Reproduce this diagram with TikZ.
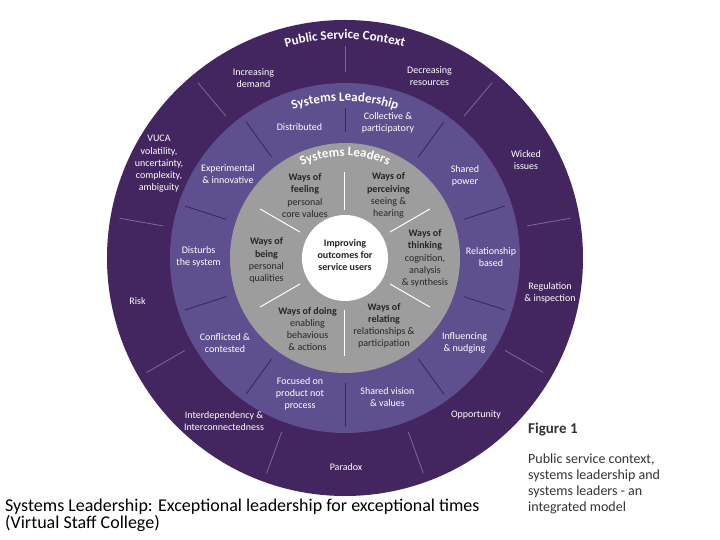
\documentclass[tikz,border=0pt]{standalone}
\usepackage{fontspec}
\setmainfont{Carlito}
\usetikzlibrary{decorations.text}
\definecolor{violetfonce}{HTML}{432560}
\definecolor{violetclair}{HTML}{5E4F8F}
\definecolor{gris}{HTML}{9D9D9D}
\definecolor{traitclair}{HTML}{7A6A9C}
\definecolor{traitfonce}{HTML}{35255A}
\begin{document}
\begin{tikzpicture}[x=1pt,y=1pt,
  ext/.style={text=white, align=center, inner sep=0pt, font=\fontsize{10}{11.8}\selectfont},
  int/.style={text=black!85, align=center, inner sep=0pt, font=\fontsize{10}{12.2}\selectfont},
  titre/.style={decorate, decoration={text along path, text align=center, text color=white,
    text={|\bfseries\fontsize{13}{13}\selectfont|#1}}}]
% Fond
\fill[white] (-345,-282) rectangle (375,258);
% Cercles
\fill[violetfonce] (0,0) circle (238);
\fill[violetclair] (0,0) circle (175);
\fill[gris] (0,0) circle (115);
\fill[white] (0,0) circle (43);
% Separations
\foreach \a in {130,170,...,410}
  \draw[traitclair, line width=0.8pt] (\a:185) -- (\a:229);
\draw[traitclair, line width=0.8pt] (90:186) -- (90:212);
\foreach \a in {126,162,...,414}
  \draw[traitfonce, line width=0.8pt] (\a:125) -- (\a:168);
\draw[traitfonce, line width=0.8pt] (90:126) -- (90:150);
\foreach \a in {150,210,...,390}
  \draw[white, line width=1pt] (\a:52) -- (\a:98);
\draw[white, line width=1pt] (90:48) -- (90:86);
% Titres
\path[titre={Public Service Context}] (140:219) arc[start angle=140, end angle=40, radius=219];
\path[titre={Systems Leadership}] (140:157) arc[start angle=140, end angle=40, radius=157];
\path[titre={Systems Leaders}] (150:102) arc[start angle=150, end angle=30, radius=102];
% Anneau exterieur
\node[ext] (demand) at (-91.5,179.5) {Increasing\\demand};
\node[ext] (resources) at (84.5,181.5) {Decreasing\\resources};
\node[ext] (wicked) at (181,98) {Wicked\\issues};
\node[ext] (regulation) at (205,-34.5) {Regulation\\\& inspection};
\node[ext] (opportunity) at (131,-157) {Opportunity};
\node[ext] (paradox) at (1,-209) {Paradox};
\node[ext] (interdep) at (-121,-163) {Interdependency \&\\Interconnectedness};
\node[ext] (risk) at (-207.5,-43) {Risk};
\node[ext, font=\fontsize{10}{12.3}\selectfont] (vuca) at (-186,94) {VUCA\\volatility,\\uncertainty,\\complexity,\\ambiguity};
% Anneau du milieu
\node[ext] (distributed) at (-45.5,131) {Distributed};
\node[ext] (collective) at (43,135) {Collective \&\\participatory};
\node[ext] (shared) at (120,82) {Shared\\power};
\node[ext] (relationship) at (146,1) {Relationship\\based};
\node[ext] (influencing) at (119.5,-85) {Influencing\\\& nudging};
\node[ext] (vision) at (42.5,-139) {Shared vision\\\& values};
\node[ext] (focused) at (-45,-136) {Focused on\\product not\\process};
\node[ext] (conflicted) at (-120,-85) {Conflicted \&\\contested};
\node[ext] (disturbs) at (-146.5,1) {Disturbs\\the system};
\node[ext] (experimental) at (-117,84) {Experimental\\\& innovative};
% Systems leaders
\node[int] (feeling) at (-40,62.5) {\textbf{Ways of}\\\textbf{feeling}\\personal\\core values};
\node[int] (perceiving) at (43.5,62.5) {\textbf{Ways of}\\\textbf{perceiving}\\seeing \&\\hearing};
\node[int] (thinking) at (80,-0.5) {\textbf{Ways of}\\\textbf{thinking}\\cognition,\\analysis\\\& synthesis};
\node[int] (relating) at (39,-68) {\textbf{Ways of}\\\textbf{relating}\\relationships \&\\participation};
\node[int] (doing) at (-37.5,-71) {\textbf{Ways of doing}\\enabling\\behavious\\\& actions};
\node[int] (being) at (-78.5,-2.5) {\textbf{Ways of}\\\textbf{being}\\personal\\qualities};
% Centre
\node[int, font=\bfseries\fontsize{10}{12.2}\selectfont] (outcomes) at (0,3) {Improving\\outcomes for\\service users};
% Legende
\node[anchor=base west, inner sep=0pt, text=black!80, font=\bfseries\fontsize{15}{15}\selectfont] (figure) at (183,-176) {Figure 1};
\node[anchor=north west, align=left, inner sep=0pt, text=black!80, font=\fontsize{14}{16}\selectfont] (legend) at (183,-196) {Public service context,\\systems leadership and\\systems leaders - an\\integrated model};
\node[anchor=north west, align=left, inner sep=0pt, font=\fontsize{18}{17}\selectfont] (source) at (-340,-241) {Systems Leadership: Exceptional leadership for exceptional times\\(Virtual Staff College)};
\end{tikzpicture}
\end{document}
